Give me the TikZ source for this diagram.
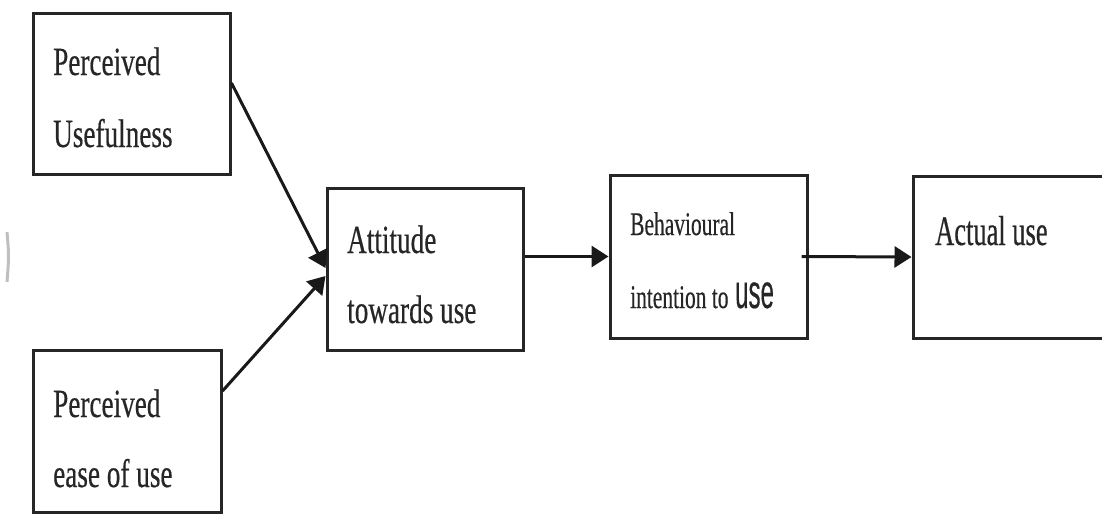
\documentclass[tikz,border=0pt]{standalone}
\usepackage{fontspec}
\newfontfamily\lblA{Liberation Serif}[FakeStretch=0.68,FakeBold=0.4]
\newfontfamily\lblB{Liberation Serif}[FakeStretch=0.65,FakeBold=0.4]
\newfontfamily\lblC{Liberation Serif}[FakeStretch=0.63,FakeBold=0.4]
\newfontfamily\lblS{Liberation Sans}[FakeStretch=0.5,FakeBold=0.3]
\usetikzlibrary{arrows.meta}
\begin{document}
\begin{tikzpicture}[x=1pt,y=-1pt,
  box/.style={draw=black!85,line width=3pt,inner sep=0pt,rectangle},
  lbl/.style={anchor=base west,inner sep=0pt,text=black!85},
  arr/.style={draw=black!90,line width=3pt,-{Triangle[length=17pt,width=21pt]}}]
\clip (0,0) rectangle (1102,514);
\fill[white] (0,0) rectangle (1102,514);
% boxes
\node[box,minimum width=197pt,minimum height=161pt] (pu) at (131.5,93.5) {};
\node[box,minimum width=188pt,minimum height=162pt] (pe) at (127,431) {};
\node[box,minimum width=196pt,minimum height=162pt] (att) at (425,269) {};
\node[box,minimum width=197pt,minimum height=163pt] (beh) at (708.5,256.5) {};
\node[box,minimum width=200pt,minimum height=162pt] (act) at (1013,257) {};
% labels
\node[lbl,font=\lblA\fontsize{40}{48}\selectfont] (pu1) at (53,75) {Perceived};
\node[lbl,font=\lblA\fontsize{40}{48}\selectfont] (pu2) at (53,147) {Usefulness};
\node[lbl,font=\lblA\fontsize{40}{48}\selectfont] (pe1) at (53,417) {Perceived};
\node[lbl,font=\lblA\fontsize{40}{48}\selectfont] (pe2) at (53,487) {ease of use};
\node[lbl,font=\lblA\fontsize{40}{48}\selectfont] (at1) at (347,253) {Attitude};
\node[lbl,font=\lblA\fontsize{40}{48}\selectfont] (at2) at (347,323) {towards use};
\node[lbl,font=\lblB\fontsize{33}{40}\selectfont] (bh1) at (630,235) {Behavioural};
\node[lbl,font=\lblB\fontsize{33}{40}\selectfont] (bh2) at (630,308) {intention to};
\node[lbl,font=\lblS\fontsize{48}{56}\selectfont] (bh3) at (735,308) {use};
\node[lbl,font=\lblC\fontsize{42}{50}\selectfont] (ac1) at (935,245) {Actual use};
% connectors
\draw[arr] ([yshift=10.5pt]pu.east) -- ([yshift=1pt]att.west);
\draw[arr] ([yshift=40pt]pe.east) -- ([yshift=-7pt]att.west);
\draw[arr] (att.east |- beh.west) -- (beh.west);
\draw[arr] ([xshift=-7pt]beh.east) -- (act.west);
% faint stray mark at left edge
\draw[black!25,line width=3pt] (7,232) .. controls (9,256) .. (7,282);
\end{tikzpicture}
\end{document}
